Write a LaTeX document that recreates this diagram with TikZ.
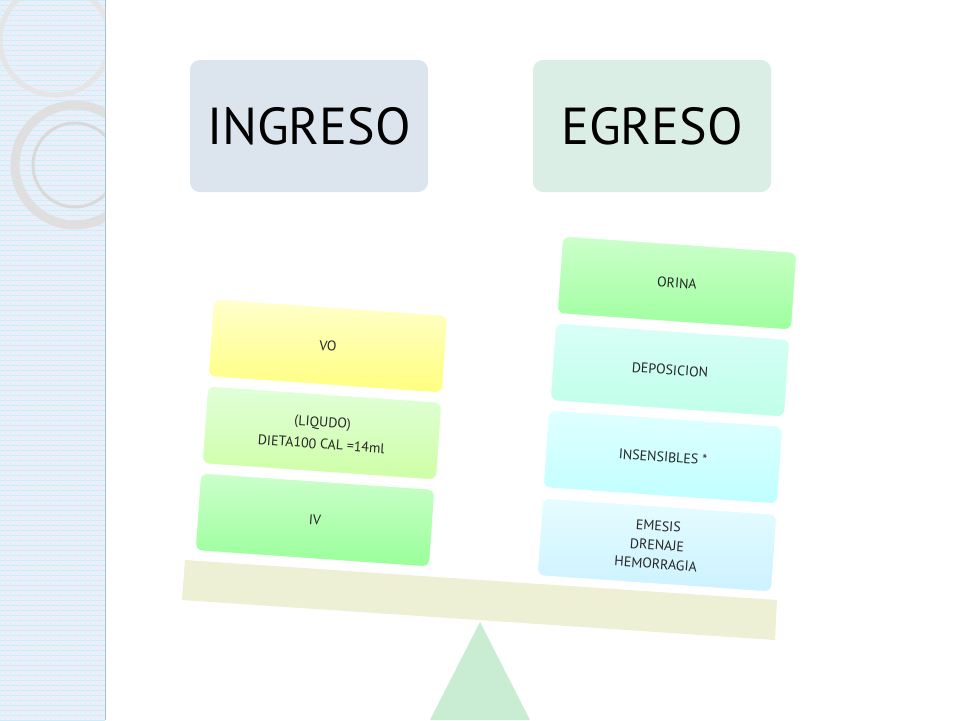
\documentclass[tikz,border=0pt]{standalone}
\usepackage{fontspec}
\setmainfont{PT Sans}
\definecolor{hing}{HTML}{DCE4EE}
\definecolor{hegr}{HTML}{DAEEE6}
\definecolor{beam}{HTML}{EEF0D6}
\definecolor{tri}{HTML}{C9EDD3}
\begin{document}
\begin{tikzpicture}[x=1pt,y=-1pt,
  item/.style={draw=white,line width=1.2pt,rounded corners=7pt,minimum width=235pt,minimum height=78pt,rotate=-4,align=center,font=\fontsize{14}{22}\selectfont,text=black!85},
  head/.style={rounded corners=10pt,minimum width=238pt,minimum height=132pt,font=\fontsize{52}{58}\selectfont}]
\useasboundingbox (0,0) rectangle (960,720);
\fill[white] (0,0) rectangle (960,720);
\fill[cyan!10!blue!6!white] (0,0) rectangle (105,720);
\foreach \i in {0,5,...,720} \draw[cyan!22!white,line width=0.4pt] (0,\i) -- (105,\i);
\foreach \i in {0,5,...,105} \draw[cyan!15!white,line width=0.3pt] (\i,0) -- (\i,720);
\draw[cyan!40!gray!60,line width=1pt] (105,0) -- (105,720);
\begin{scope}
\clip (0,0) rectangle (105,720);
\draw[gray!25,line width=9pt] (75,165) circle (60);
\draw[gray!30,line width=3pt] (75,165) circle (42);
\draw[gray!20,line width=5pt] (55,40) circle (55);
\end{scope}
\node[head,fill=hing] (ing) at (309,126) {INGRESO};
\node[head,fill=hegr] (egr) at (652,126) {EGRESO};
\fill[beam] (185,560) -- (777,600) -- (775,640) -- (182,600) -- cycle;
\fill[tri] (480,622) -- (530,720) -- (430,720) -- cycle;
\node[item,top color=yellow!20,bottom color=yellow!50] (vo) at (328,346) {VO};
\node[item,top color=yellow!20!green!15,bottom color=yellow!45!green!35] (liq) at (322,433) {(LIQUDO)\\DIETA100 CAL =14ml};
\node[item,top color=green!20,bottom color=green!40] (iv) at (315,520) {IV};
\node[item,top color=green!20,bottom color=green!38] (ori) at (677,283) {ORINA};
\node[item,top color=green!20!cyan!15,bottom color=green!35!cyan!25] (dep) at (670,370) {DEPOSICION};
\node[item,top color=cyan!12,bottom color=cyan!25] (ins) at (663,457) {INSENSIBLES *};
\node[item,top color=blue!10!cyan!10,bottom color=blue!25!cyan!20,font=\fontsize{14}{19}\selectfont] (eme) at (657,545) {EMESIS\\DRENAJE\\HEMORRAGIA};
\end{tikzpicture}
\end{document}
